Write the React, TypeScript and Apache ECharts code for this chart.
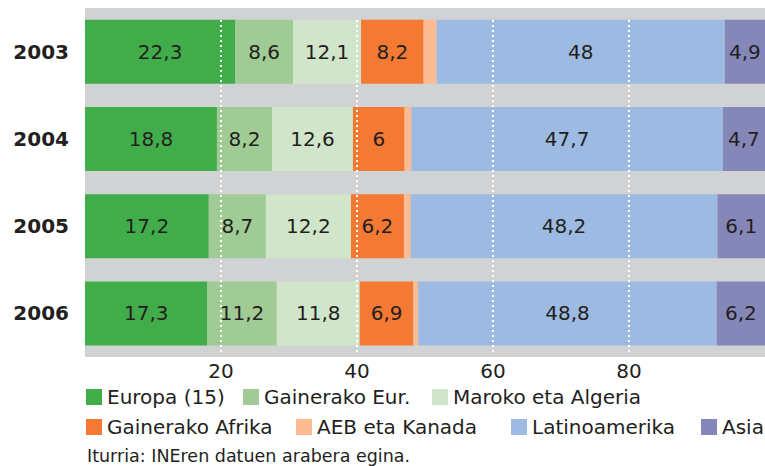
import React, { useEffect, useRef } from "react";
import * as echarts from "echarts";

// Categories
const years = ["2003", "2004", "2005", "2006"];

// Series names
const seriesNames = [
  "Europa (15)",
  "Gainerako Eur.",
  "Maroko eta Algeria",
  "Gainerako Afrika",
  "AEB eta Kanada",
  "Latinoamerika",
  "Asia",
];

// Segment widths as drawn (percent of row)
const europa = [22.1, 19.4, 18.2, 18.0];
const gainerakoEur = [8.5, 8.1, 8.4, 10.2];
const maroko = [10.0, 11.9, 12.5, 12.2];
const gainerakoAfrika = [9.2, 7.6, 7.8, 7.9];
const aeb = [1.9, 1.0, 1.0, 0.7];
const latinoamerika = [42.4, 45.8, 45.1, 43.9];
const asia = [5.9, 6.2, 7.0, 7.1];

// Printed value labels
const europaLabels = ["22,3", "18,8", "17,2", "17,3"];
const gainerakoEurLabels = ["8,6", "8,2", "8,7", "11,2"];
const marokoLabels = ["12,1", "12,6", "12,2", "11,8"];
const gainerakoAfrikaLabels = ["8,2", "6", "6,2", "6,9"];
const aebLabels: string[] = [];
const latinoamerikaLabels = ["48", "47,7", "48,2", "48,8"];
const asiaLabels = ["4,9", "4,7", "6,1", "6,2"];

const colors = ["#41ad4a", "#a0cb94", "#d0e5c9", "#f47933", "#fbbb93", "#9dbbe2", "#8687b9"];

const FONT = "DejaVu Sans";
const TEXT = "#231f20";

export default function App() {
  const ref = useRef<HTMLDivElement>(null);

  useEffect(() => {
    document.body.style.margin = "0";
    if (!ref.current) return;
    const chart = echarts.init(ref.current, undefined, { renderer: "svg" });

    const values = [europa, gainerakoEur, maroko, gainerakoAfrika, aeb, latinoamerika, asia];
    const labels = [
      europaLabels,
      gainerakoEurLabels,
      marokoLabels,
      gainerakoAfrikaLabels,
      aebLabels,
      latinoamerikaLabels,
      asiaLabels,
    ];

    const legendPos = [
      { left: 86, top: 387 },
      { left: 243, top: 387 },
      { left: 432, top: 387 },
      { left: 86, top: 417 },
      { left: 296, top: 417 },
      { left: 511, top: 417 },
      { left: 701, top: 417 },
    ];

    const option: any = {
      animation: false,
      textStyle: { fontFamily: FONT, color: TEXT },
      grid: [
        {
          left: 85,
          right: 0,
          top: 8,
          bottom: 109,
          show: true,
          backgroundColor: "#d1d2d4",
          borderWidth: 0,
        },
        {
          left: 85,
          right: 0,
          top: 20,
          bottom: 111,
          show: false,
        },
      ],
      xAxis: [
        {
          type: "value",
          gridIndex: 0,
          min: 0,
          max: 100,
          interval: 20,
          axisLine: { show: false },
          axisTick: { show: false },
          splitLine: { show: false },
          axisLabel: {
            showMinLabel: false,
            showMaxLabel: false,
            fontSize: 20,
            color: TEXT,
            fontFamily: FONT,
            margin: 4,
          },
        },
        {
          type: "value",
          gridIndex: 1,
          min: 0,
          max: 100,
          interval: 20,
          z: 10,
          axisLine: { show: false },
          axisTick: { show: false },
          axisLabel: { show: false },
          splitLine: {
            show: true,
            showMinLine: false,
            showMaxLine: false,
            lineStyle: { color: "#ffffff", width: 2, type: [2, 3] },
          },
        },
      ],
      yAxis: [
        {
          type: "category",
          gridIndex: 0,
          data: years,
          inverse: true,
          axisLine: { show: false },
          axisTick: { show: false },
          splitLine: { show: false },
          axisLabel: {
            fontSize: 20,
            fontWeight: "bold",
            color: TEXT,
            fontFamily: FONT,
            margin: 16,
          },
        },
        {
          type: "value",
          gridIndex: 1,
          show: false,
          min: 0,
          max: 1,
        },
      ],
      legend: seriesNames.map((name, i) => ({
        data: [name],
        left: legendPos[i].left,
        top: legendPos[i].top,
        padding: 0,
        itemWidth: 16,
        itemHeight: 16,
        icon: "rect",
        itemStyle: { borderWidth: 0 },
        textStyle: { fontSize: 20, color: TEXT, fontFamily: FONT },
      })),
      series: seriesNames.map((name, i) => ({
        name,
        type: "bar",
        stack: "total",
        xAxisIndex: 0,
        yAxisIndex: 0,
        barWidth: 64,
        data: values[i],
        itemStyle: { color: colors[i] },
        label: {
          show: labels[i].length > 0,
          position: "inside",
          fontSize: 20,
          color: TEXT,
          fontFamily: FONT,
          formatter: (p: any) => labels[i][p.dataIndex] ?? "",
        },
        emphasis: { disabled: true },
      })),
      graphic: [
        {
          type: "text",
          left: 87,
          top: 447,
          style: {
            text: "Iturria: INEren datuen arabera egina.",
            fontSize: 17.5,
            fill: TEXT,
            fontFamily: FONT,
          },
        },
      ],
    };

    chart.setOption(option);
    return () => chart.dispose();
  }, []);

  return <div ref={ref} style={{ width: 765, height: 466 }} />;
}
